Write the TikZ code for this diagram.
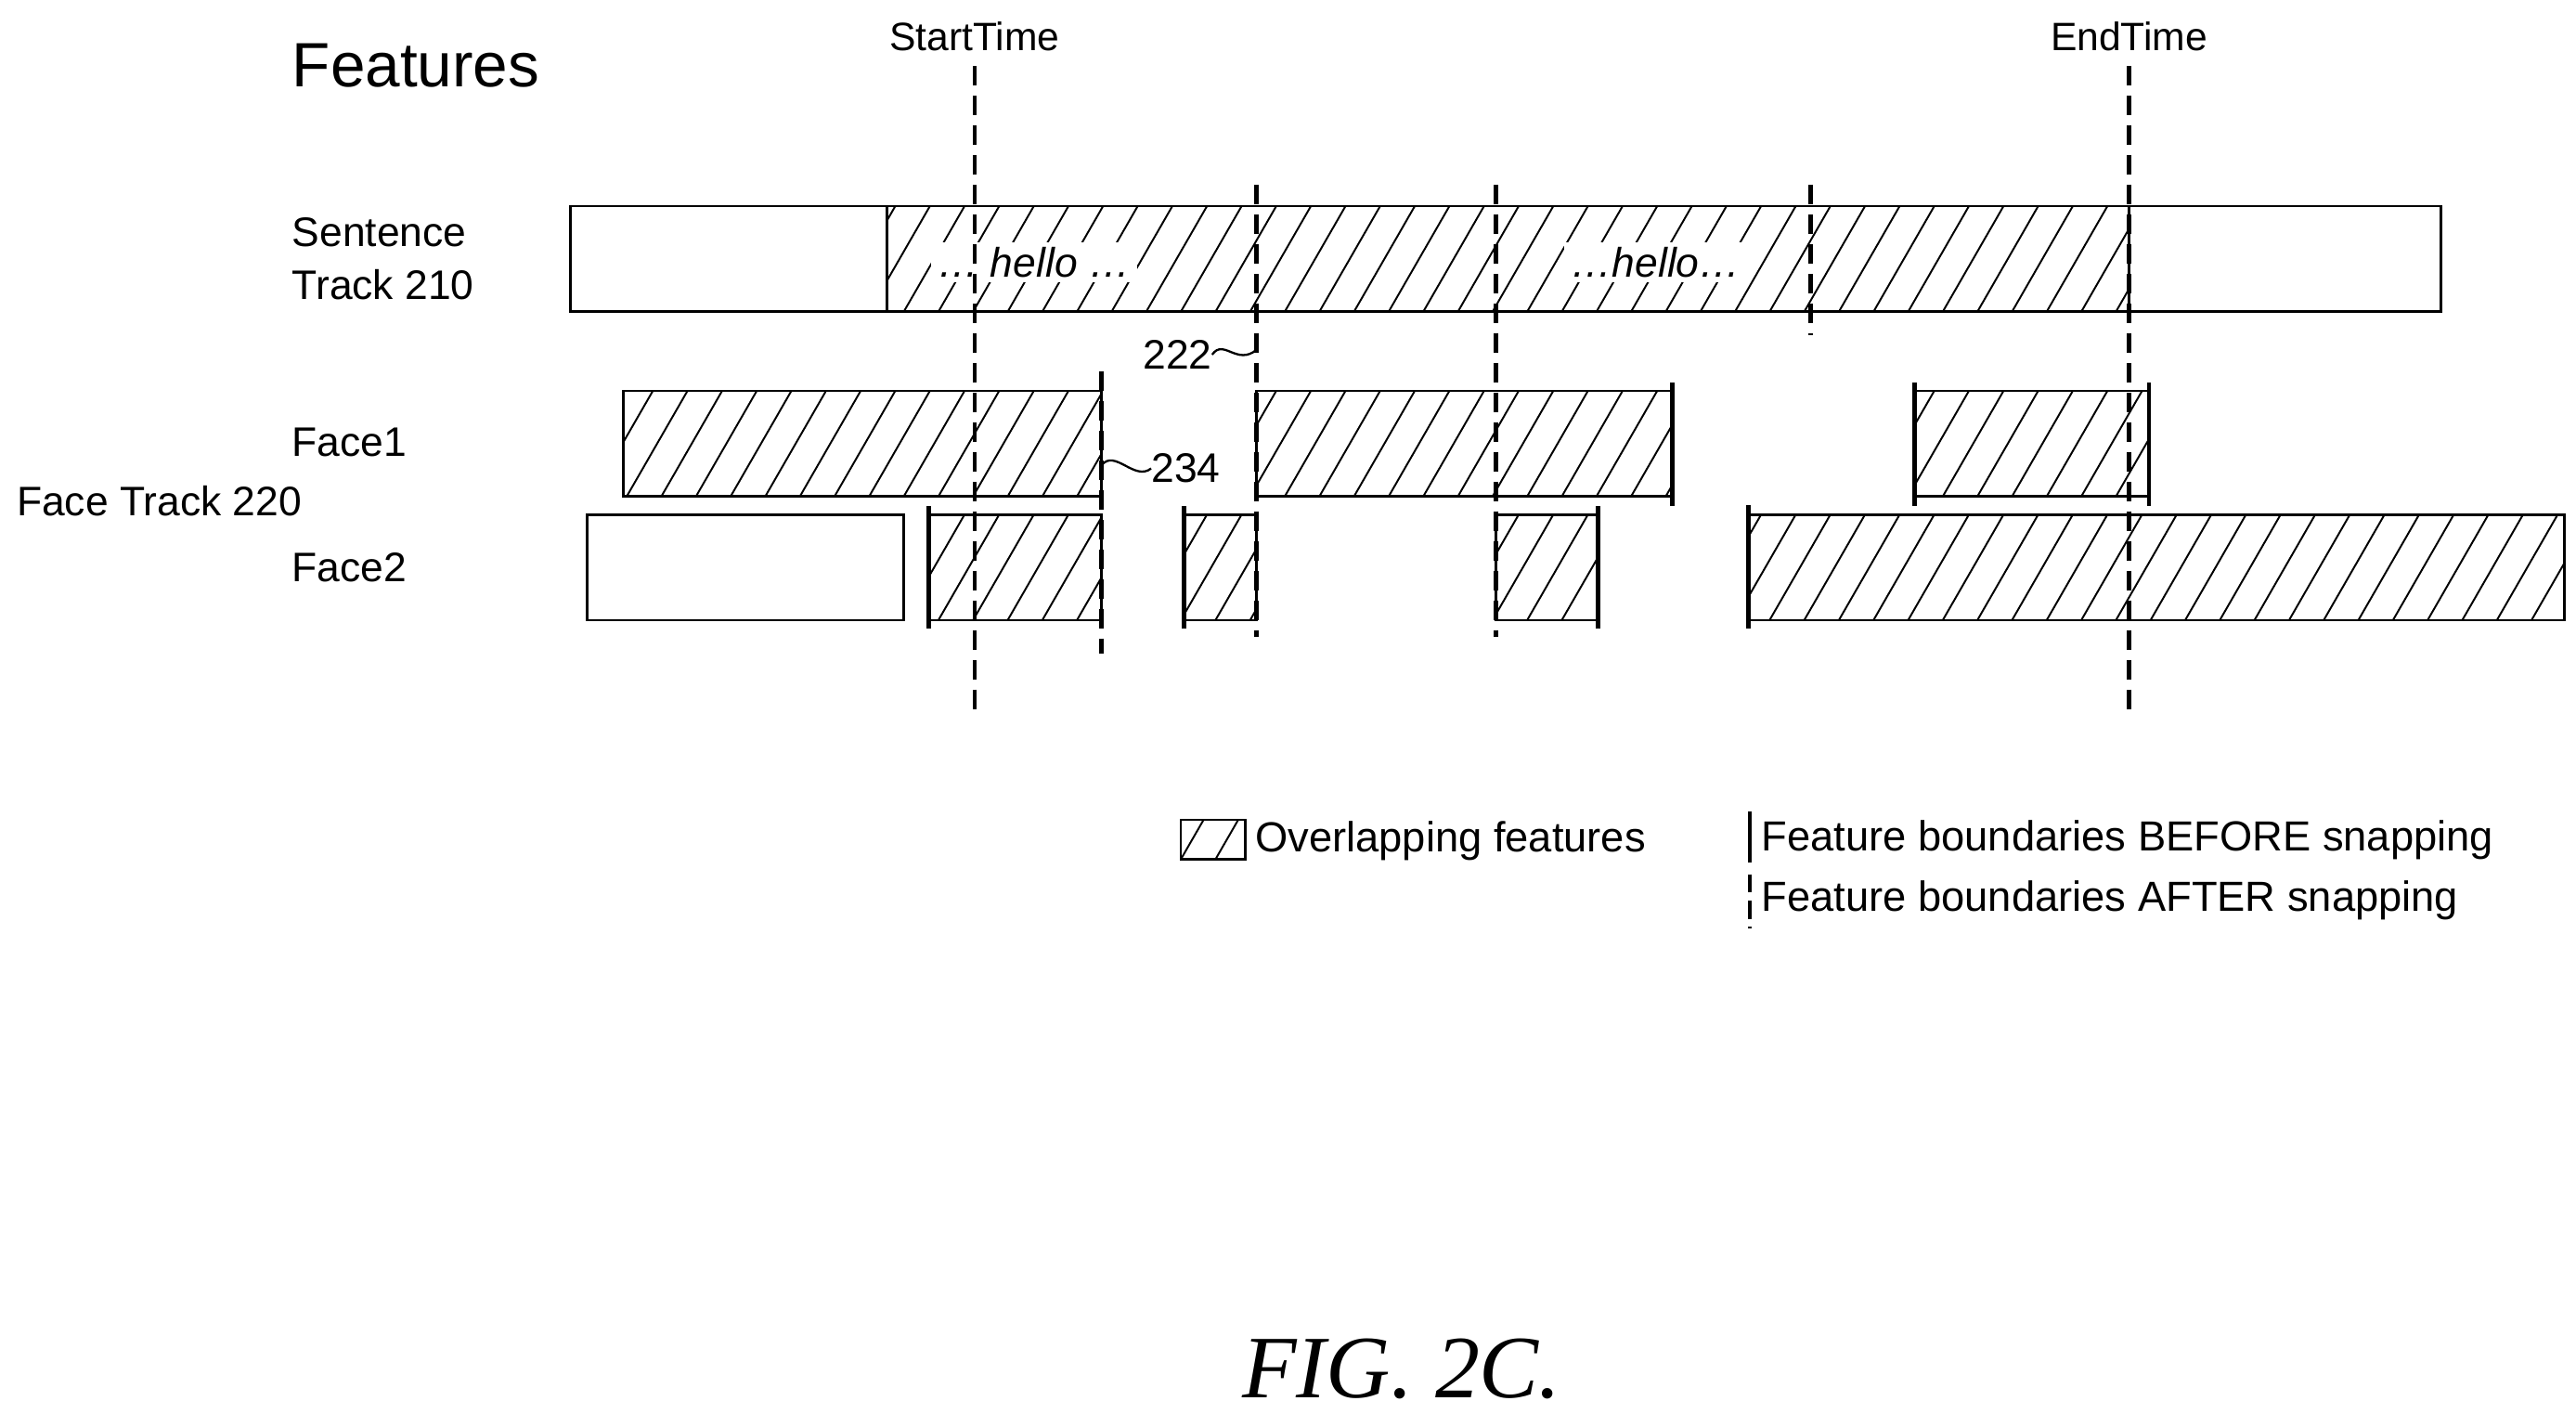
\documentclass[tikz,border=0pt]{standalone}
\usepackage{fontspec}
\setmainfont{Liberation Sans}
\newfontfamily\figfont{Liberation Serif}
\begin{document}
\begin{tikzpicture}[x=1pt,y=-1pt,
  bd/.style={line width=1.6pt},
  hl/.style={line width=1.1pt},
  dsh/.style={line width=2.6pt,dash pattern=on 12pt off 6pt},
  tk/.style={line width=2.6pt},
  lab/.style={font=\fontsize{25}{30}\selectfont,inner sep=0pt}]
\useasboundingbox (0,0) rectangle (1562,864.6);
\newcommand\hatchrect[4]{%
  \begin{scope}\clip (#1,#2) rectangle (#3,#4);
  \foreach \k in {-40,-19,...,1600} \draw[hl] (\k,#4) -- ++(38,-66);
  \end{scope}
  \draw[bd] (#1,#2) rectangle (#3,#4);}
% title
\node[anchor=west,inner sep=0pt,font=\fontsize{38}{42}\selectfont] (feat) at (177,40) {Features};
\node[lab,font=\fontsize{24}{28}\selectfont] (st) at (591,22) {StartTime};
\node[lab,font=\fontsize{24}{28}\selectfont] (et) at (1291,22) {EndTime};
% row labels
\node[lab,anchor=west,align=left] (sent) at (177,157) {Sentence\\[2pt]Track 210};
\node[lab,anchor=west] (f1) at (177,268) {Face1};
\node[lab,anchor=west] (ft) at (10,304) {Face Track 220};
\node[lab,anchor=west] (f2) at (177,344) {Face2};
% sentence track
\draw[bd] (346,125) rectangle (1480,189);
\hatchrect{538}{125}{1291}{189}
\node[lab,fill=white,inner xsep=4pt,inner ysep=3pt,font=\fontsize{25}{30}\selectfont\itshape] (h1) at (627,159) {\dots\ hello \dots};
\node[lab,fill=white,inner xsep=4pt,inner ysep=3pt,font=\fontsize{25}{30}\selectfont\itshape] (h2) at (1004,159) {\dots hello\dots};
% face1
\hatchrect{378}{237}{668}{301}
\hatchrect{762}{237}{1014}{301}
\hatchrect{1161}{237}{1303}{301}
% face2
\draw[bd] (356,312) rectangle (548,376);
\hatchrect{563}{312}{668}{376}
\hatchrect{718}{312}{762}{376}
\hatchrect{907}{312}{969}{376}
\hatchrect{1060}{312}{1555}{376}
% solid boundaries (before snapping)
\draw[tk] (1014,232) -- (1014,307);
\draw[tk] (1161,232) -- (1161,307);
\draw[tk] (1303,232) -- (1303,307);
\draw[tk] (718,307) -- (718,381);
\draw[tk] (969,307) -- (969,381);
\draw[tk] (1060,306) -- (1060,381);
\draw[tk] (563,307) -- (563,381);
% dashed boundaries (after snapping)
\draw[dsh] (591,40) -- (591,432);
\draw[dsh] (1291,40) -- (1291,432);
\draw[dsh] (762,112) -- (762,386);
\draw[dsh] (907,112) -- (907,386);
\draw[dsh] (1098,112) -- (1098,203);
\draw[dsh] (668,225) -- (668,396);
% reference labels
\node[lab,anchor=east] (n222) at (735,215) {222};
\coordinate (c222) at (762,212);
\draw[line width=1.3pt] (n222.east) .. controls (742,205) and (750,222) .. (c222);
\node[lab,anchor=west] (n234) at (698,284) {234};
\coordinate (c234) at (668,282);
\draw[line width=1.3pt] (c234) .. controls (676,272) and (688,292) .. (n234.west);
% legend
\hatchrect{716}{497}{755}{521}
\node[lab,anchor=west,font=\fontsize{25.5}{30}\selectfont] (l1) at (761,510) {Overlapping features};
\draw[tk] (1061,492) -- (1061,523);
\node[lab,anchor=west,font=\fontsize{25.5}{30}\selectfont] (l2) at (1068,509) {Feature boundaries BEFORE snapping};
\draw[line width=2.6pt,dash pattern=on 11pt off 5pt] (1061,530) -- (1061,563);
\node[lab,anchor=west,font=\fontsize{25.5}{30}\selectfont] (l3) at (1068,546) {Feature boundaries AFTER snapping};
% caption
\node[lab,font=\figfont\fontsize{54}{58}\selectfont\itshape] (fig) at (850,830) {FIG. 2C.};
\end{tikzpicture}
\end{document}
